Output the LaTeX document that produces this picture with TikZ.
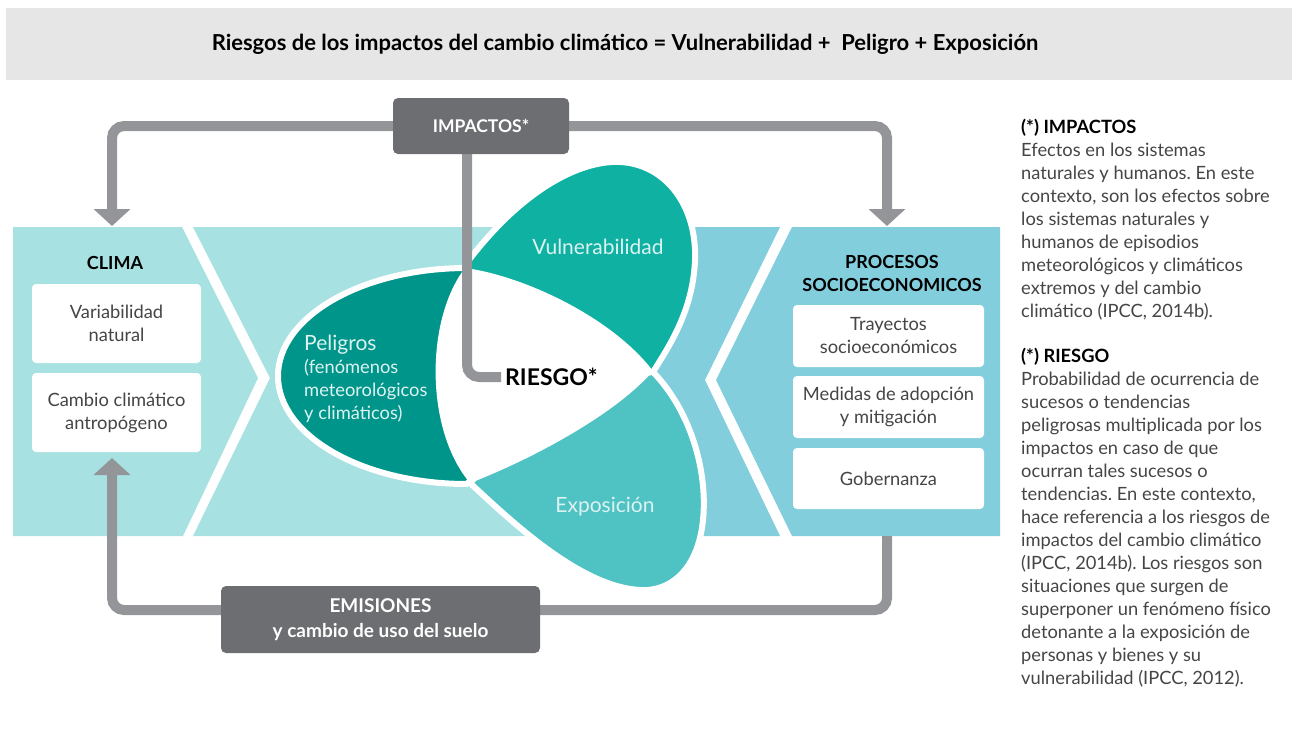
\documentclass[tikz,border=0pt]{standalone}
\usepackage{fontspec}
\setmainfont{Lato}
\frenchspacing
\usetikzlibrary{arrows.meta}
\definecolor{titlebg}{HTML}{E6E6E6}
\definecolor{lightteal}{HTML}{A7E1E1}
\definecolor{panelblue}{HTML}{82CEDD}
\definecolor{peligros}{HTML}{00958A}
\definecolor{vuln}{HTML}{0FB1A2}
\definecolor{expo}{HTML}{4FC2C4}
\definecolor{flowgray}{HTML}{939598}
\definecolor{boxgray}{HTML}{6D6E71}
\definecolor{txtgray}{HTML}{454545}
\definecolor{petaltxt}{HTML}{DDF3F1}
\pgfdeclarelayer{back}
\pgfdeclarelayer{flows}
\pgfsetlayers{back,flows,main}
\tikzset{
  itembox/.style={fill=white, rounded corners=4pt, minimum width=169pt, minimum height=79pt,
    align=center, text=txtgray, font=\fontsize{18.3}{23}\selectfont, inner sep=0pt},
  flow/.style={draw=flowgray, line width=10pt, rounded corners=12pt},
  flowarrow/.style={flow, -{Triangle[width=36pt,length=17pt]}},
  darkbox/.style={fill=boxgray, rounded corners=5pt, text=white, align=center, inner sep=0pt},
  petal/.style={draw=white, line width=6pt, line join=round},
  petaltext/.style={text=petaltxt, font=\fontsize{21}{23}\selectfont, inner sep=0pt},
  headtxt/.style={font=\bfseries\fontsize{18}{23}\selectfont, align=center, text=black, inner sep=0pt},
  note/.style={anchor=north west, align=left, inner sep=0pt, text=txtgray, font=\fontsize{18.3}{23}\selectfont},
}
\begin{document}
\begin{tikzpicture}[x=1pt,y=-1pt]
\useasboundingbox (0,0) rectangle (1292,734);
\begin{pgfonlayer}{back}
  % title bar
  \fill[titlebg] (6,8) rectangle (1292,80);
  % panels
  \fill[lightteal] (13,227) -- (182,227) -- (258,378) -- (183,536) -- (13,536) -- cycle;
  \fill[lightteal] (193,227) -- (645,227) -- (645,536) -- (193,536) -- (270,378) -- cycle;
  \fill[panelblue] (645,227) -- (780,227) -- (705,380) -- (780,536) -- (645,536) -- cycle;
  \fill[panelblue] (792,227) -- (1000,227) -- (1000,536) -- (792,536) -- (716,380) -- cycle;
  % petals
  \path[petal, fill=peligros] (467,268) .. controls (362.6,268) and (278,316.4) .. (278,376)
     .. controls (278,435.6) and (362.6,484) .. (467,484) -- (560,378) -- cycle;
  \path[petal, fill=vuln] (463,268) .. controls (520,190) and (580,160) .. (620,162)
     .. controls (665,164) and (697,205) .. (695,260)
     .. controls (693,310) and (670,345) .. (653,372) -- (555,375) -- cycle;
  \path[petal, fill=expo] (653,372) .. controls (690,410) and (708,470) .. (703,520)
     .. controls (698,570) and (670,592) .. (640,590)
     .. controls (580,587) and (510,520) .. (470,483) -- (560,385) -- cycle;
  % white centre
  \fill[white] (465,268) .. controls (520,275) and (610,315) .. (653,371)
     .. controls (615,415) and (530,460) .. (470,483)
     .. controls (425,430) and (425,320) .. (465,268) -- cycle;
\end{pgfonlayer}

% title
\node[font=\bfseries\fontsize{22}{26}\selectfont, text=black] (title) at (625,44)
  {Riesgos de los impactos del cambio climático = Vulnerabilidad +\ \ Peligro + Exposición};

% left panel
\node[headtxt] (clima) at (115,263) {CLIMA};
\node[itembox] (var) at (116.5,323.5) {Variabilidad\\natural};
\node[itembox] (cc) at (116.5,412.5) {Cambio climático\\antropógeno};

% right panel
\node[headtxt] (proc) at (892,273.5) {PROCESOS\\SOCIOECONOMICOS};
\node[itembox, minimum width=191pt, minimum height=62pt] (tray) at (888.5,336) {Trayectos\\socioeconómicos};
\node[itembox, minimum width=191pt, minimum height=62pt] (med) at (888.5,407) {Medidas de adopción\\y mitigación};
\node[itembox, minimum width=191pt, minimum height=61pt] (gob) at (888.5,478.5) {Gobernanza};

% petals text
\node[petaltext] (vul) at (598,247) {Vulnerabilidad};
\node[petaltext] (exp) at (605,507) {Exposición};
\node[petaltext, anchor=north west, align=left, font=\fontsize{18.3}{23}\selectfont] (pel) at (304,335)
  {{\fontsize{21}{23}\selectfont Peligros}\\(fenómenos\\meteorológicos\\y climáticos)};
\node[font=\bfseries\fontsize{23}{26}\selectfont, text=black, anchor=west, inner sep=0pt] (riesgo) at (505,377) {RIESGO*};

% dark boxes
\node[darkbox, minimum width=176pt, minimum height=56pt, font=\bfseries\fontsize{17.5}{20}\selectfont] (imp) at (481,126) {IMPACTOS*};
\node[darkbox, minimum width=319pt, minimum height=67pt, font=\bfseries\fontsize{19}{25}\selectfont] (emis) at (380.5,619.5) {EMISIONES\\y cambio de uso del suelo};

% connector end points
\coordinate (climatop) at (112,226);
\coordinate (proctop) at (887,226);
\coordinate (procbot) at (887,536);
\coordinate (climabot) at (112,458);

\begin{pgfonlayer}{flows}
  \draw[flowarrow] (imp.west) -| (climatop);
  \draw[flowarrow] (imp.east) -| (proctop);
  \draw[flow] ([xshift=-14pt]imp.south) |- ([xshift=-4pt]riesgo.west);
  \draw[flowarrow] (procbot) |- ([yshift=9.5pt]emis.center) -| (climabot);
\end{pgfonlayer}

% notes
\node[note] (n1) at (1021,119) {{\bfseries\color{black}(*) IMPACTOS}\\
Efectos en los sistemas\\
naturales y humanos. En este\\
contexto, son los efectos sobre\\
los sistemas naturales y\\
humanos de episodios\\
meteorológicos y climáticos\\
extremos y del cambio\\
climático (IPCC, 2014b).};
\node[note] (n2) at (1021,348) {{\bfseries\color{black}(*) RIESGO}\\
Probabilidad de ocurrencia de\\
sucesos o tendencias\\
peligrosas multiplicada por los\\
impactos en caso de que\\
ocurran tales sucesos o\\
tendencias. En este contexto,\\
hace referencia a los riesgos de\\
impactos del cambio climático\\
(IPCC, 2014b). Los riesgos son\\
situaciones que surgen de\\
superponer un fenómeno físico\\
detonante a la exposición de\\
personas y bienes y su\\
vulnerabilidad (IPCC, 2012).};
\end{tikzpicture}
\end{document}
